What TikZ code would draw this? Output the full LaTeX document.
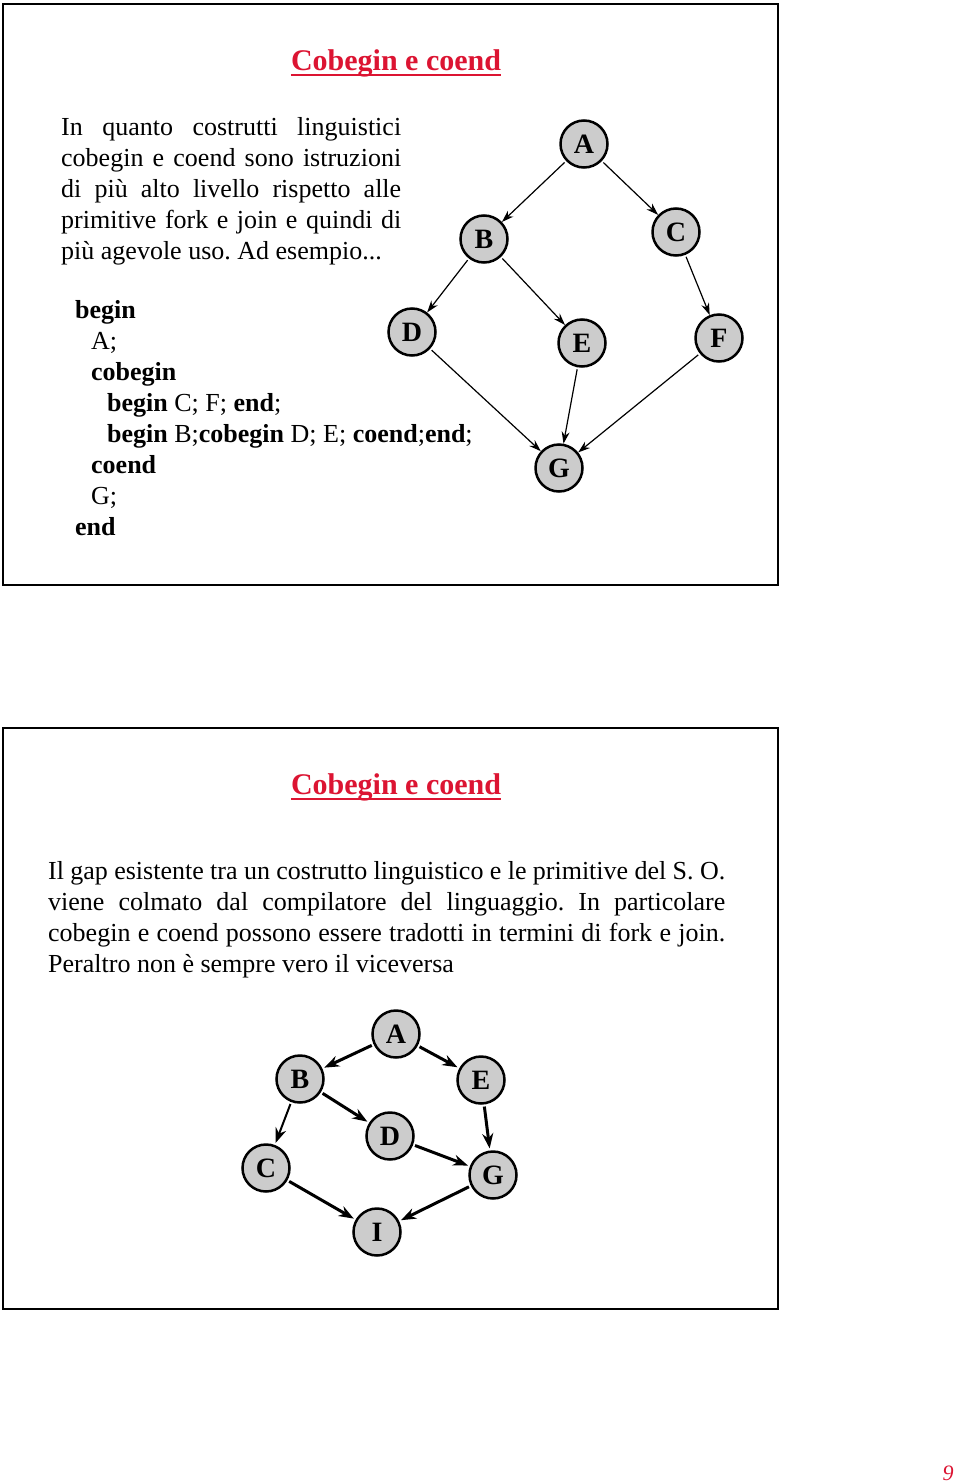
\documentclass[tikz,border=0pt]{standalone}
\usepackage{fontspec}
\setmainfont{Liberation Serif}
\usetikzlibrary{arrows.meta}
\definecolor{titlered}{RGB}{220,20,50}
\definecolor{nodegray}{RGB}{204,204,204}
\begin{document}
\frenchspacing
\begin{tikzpicture}[x=1pt,y=-1pt,
 vtx/.style={circle,draw=black,line width=2.5pt,fill=nodegray,minimum size=47pt,inner sep=0pt,font=\fontsize{28}{28}\selectfont\bfseries},
 thinarr/.style={line width=1.2pt,-{Stealth[length=12pt,width=8pt]},shorten <=2pt},
 thickarr/.style={line width=3pt,-{Stealth[length=15pt,width=11pt]},shorten <=2pt,shorten >=2pt},
 frame/.style={draw=black,line width=2pt},
 ttl/.style={text=titlered,font=\fontsize{30}{30}\selectfont\bfseries,inner sep=0pt,anchor=base},
 uline/.style={draw=titlered,line width=1.8pt},
 txt/.style={font=\fontsize{26}{26}\selectfont\frenchspacing,inner sep=0pt,anchor=base west}]
\useasboundingbox (0,0) rectangle (960,1483);
\fill[white] (0,0) rectangle (960,1483);

% ---------- top slide ----------
\draw[frame] (3,4) rectangle (778,585);
\node[ttl] (t1) at (396,70) {Cobegin e coend};
\draw[uline] ([yshift=-5pt]t1.base west) -- ([yshift=-5pt]t1.base east);

\node[txt] (p1) at (61,135) {\makebox[340pt][s]{In quanto costrutti linguistici}};
\node[txt] (p2) at (61,166) {\makebox[340pt][s]{cobegin e coend sono istruzioni}};
\node[txt] (p3) at (61,197) {\makebox[340pt][s]{di più alto livello rispetto alle}};
\node[txt] (p4) at (61,228) {\makebox[340pt][s]{primitive fork e join e quindi di}};
\node[txt] (p5) at (61,259) {più agevole uso. Ad esempio...};

\node[txt] (c1) at (75,318) {\textbf{begin}};
\node[txt] (c2) at (91,349) {A;};
\node[txt] (c3) at (91,380) {\textbf{cobegin}};
\node[txt] (c4) at (107,411) {\textbf{begin} C; F; \textbf{end};};
\node[txt] (c5) at (107,442) {\textbf{begin} B;\textbf{cobegin} D; E; \textbf{coend};\textbf{end};};
\node[txt] (c6) at (91,473) {\textbf{coend}};
\node[txt] (c7) at (91,504) {G;};
\node[txt] (c8) at (75,535) {\textbf{end}};

\node[vtx] (A) at (584,144) {A};
\node[vtx] (B) at (484,239) {B};
\node[vtx] (C) at (676,232) {C};
\node[vtx] (D) at (412,332) {D};
\node[vtx] (E) at (582,343) {E};
\node[vtx] (F) at (719,338) {F};
\node[vtx] (G) at (559,468) {G};
\draw[thinarr] (A) -- (B);
\draw[thinarr] (A) -- (C);
\draw[thinarr] (B) -- (D);
\draw[thinarr] (B) -- (E);
\draw[thinarr] (C) -- (F);
\draw[thinarr] (D) -- (G);
\draw[thinarr] (E) -- (G);
\draw[thinarr] (F) -- (G);

% ---------- bottom slide ----------
\draw[frame] (3,728) rectangle (778,1309);
\node[ttl] (t2) at (396,794) {Cobegin e coend};
\draw[uline] ([yshift=-5pt]t2.base west) -- ([yshift=-5pt]t2.base east);

\node[txt] (q1) at (48,879) {\makebox[677pt][s]{Il gap esistente tra un costrutto linguistico e le primitive del S. O.}};
\node[txt] (q2) at (48,910) {\makebox[677pt][s]{viene colmato dal compilatore del linguaggio. In particolare}};
\node[txt] (q3) at (48,941) {\makebox[677pt][s]{cobegin e coend possono essere tradotti in termini di fork e join.}};
\node[txt] (q4) at (48,972) {Peraltro non è sempre vero il viceversa};

\node[vtx] (bA) at (396,1034) {A};
\node[vtx] (bB) at (300,1079) {B};
\node[vtx] (bE) at (481,1080) {E};
\node[vtx] (bD) at (390,1136) {D};
\node[vtx] (bC) at (266,1168) {C};
\node[vtx] (bG) at (493,1175) {G};
\node[vtx] (bI) at (377,1232) {I};
\draw[thickarr] (bA) -- (bB);
\draw[thickarr] (bA) -- (bE);
\draw[thickarr,line width=2pt] (bB) -- (bC);
\draw[thickarr] (bB) -- (bD);
\draw[thickarr] (bE) -- (bG);
\draw[thickarr] (bD) -- (bG);
\draw[thickarr] (bC) -- (bI);
\draw[thickarr] (bG) -- (bI);

\node[inner sep=0pt,anchor=base,text=titlered,font=\fontsize{22}{22}\selectfont\itshape] (pg) at (948,1480) {9};
\end{tikzpicture}
\end{document}
